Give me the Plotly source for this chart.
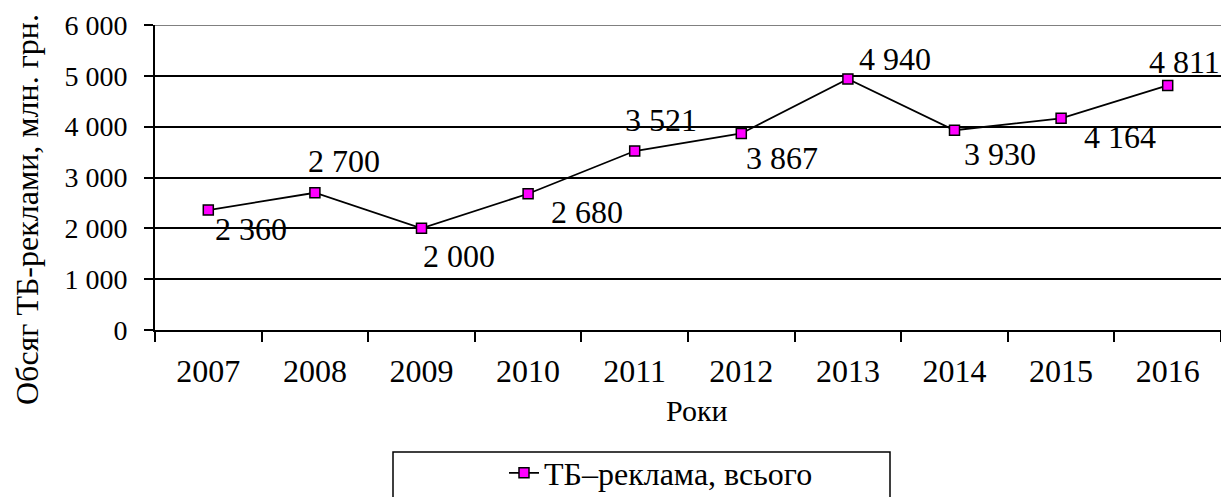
import plotly.graph_objects as go

years = ["2007", "2008", "2009", "2010", "2011", "2012", "2013", "2014", "2015", "2016"]
values = [2360, 2700, 2000, 2680, 3521, 3867, 4940, 3930, 4164, 4811]
y_ticks = [0, 1000, 2000, 3000, 4000, 5000, 6000]
y_tick_labels = ["0", "1 000", "2 000", "3 000", "4 000", "5 000", "6 000"]
series_name = "ТБ–реклама, всього"
y_title = "Обсяг ТБ-реклами, млн. грн."
x_title = "Роки"

# label offsets in pixels (right, down)
label_dx = [43, 29, 37, 59, 26, 41, 47, 45, 59, 17]
label_dy = [19, -32, 28, 18, -31, 25, -20, 24, 19, -23]

FONT = "Liberation Serif, Times New Roman, serif"

def fmt(v):
    return f"{v:,}".replace(",", " ")

fig = go.Figure()
fig.add_trace(go.Scatter(
    x=years, y=values, mode="lines+markers", name=series_name,
    line=dict(color="black", width=1.8),
    marker=dict(symbol="square", size=10, color="#FF00FF",
                line=dict(color="black", width=1.5)),
    cliponaxis=False,
))

for i, (v, dx, dy) in enumerate(zip(values, label_dx, label_dy)):
    fig.add_annotation(x=i, y=v, xref="x", yref="y", text=fmt(v),
                       showarrow=False, xshift=dx, yshift=-dy,
                       font=dict(family=FONT, size=32, color="black"))

W, H = 1221, 497
L, R, T, B = 155, 0, 25, 167
pw, ph = W - L - R, H - T - B

def px(xpix):
    return (xpix - L) / pw

def py(ypix):
    return (H - B - ypix) / ph

# axis titles as annotations
fig.add_annotation(x=px(27), y=py(210), xref="paper", yref="paper",
                   text=y_title, textangle=-90, showarrow=False,
                   xanchor="center", yanchor="middle",
                   font=dict(family=FONT, size=32, color="black"))
fig.add_annotation(x=px(697), y=py(410), xref="paper", yref="paper",
                   text=x_title, showarrow=False,
                   xanchor="center", yanchor="middle",
                   font=dict(family=FONT, size=30, color="black"))

# top border of plot area (gray)
fig.add_shape(type="line", xref="paper", yref="y", x0=0, x1=1, y0=6000, y1=6000,
              line=dict(color="#808080", width=2), layer="above")
# legend box
fig.add_shape(type="rect", xref="paper", yref="paper",
              x0=px(393), x1=px(890), y0=py(452), y1=py(520),
              line=dict(color="black", width=1.5), fillcolor="rgba(0,0,0,0)")

fig.update_layout(
    width=W, height=H,
    margin=dict(l=L, r=R, t=T, b=B, pad=0, autoexpand=False),
    paper_bgcolor="white", plot_bgcolor="white",
    font=dict(family=FONT, color="black"),
    showlegend=True,
    legend=dict(x=px(504), y=py(473), xanchor="left", yanchor="middle",
                orientation="h", bgcolor="rgba(0,0,0,0)", borderwidth=0,
                font=dict(family=FONT, size=32, color="black")),
)
fig.update_xaxes(
    type="category", range=[-0.5, 9.5], tickson="boundaries",
    ticks="outside", ticklen=10, tickwidth=2, tickcolor="black",
    showline=True, linecolor="black", linewidth=2, showgrid=False,
    tickfont=dict(family=FONT, size=32, color="black"),
    ticklabelstandoff=12,
)
fig.update_yaxes(
    range=[0, 6000], tickvals=y_ticks, ticktext=y_tick_labels,
    ticks="outside", ticklen=9, tickwidth=2, tickcolor="black",
    showline=True, linecolor="black", linewidth=2,
    showgrid=True, gridcolor="black", gridwidth=1.5,
    tickfont=dict(family=FONT, size=28, color="black"),
    ticklabelstandoff=11, zeroline=False,
)

fig.write_html("out.html",
               config={"displayModeBar": False},
               post_script="document.body.style.margin='0';document.body.style.padding='0';")
